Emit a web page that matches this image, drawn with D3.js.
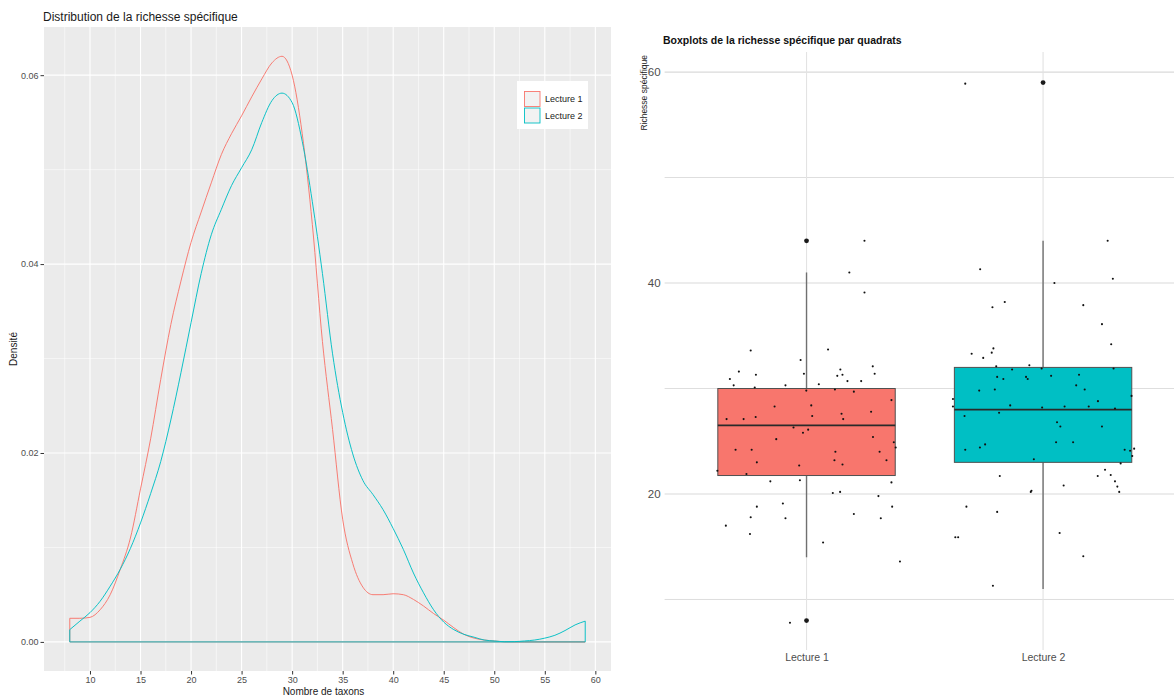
<!DOCTYPE html>
<html>
<head>
<meta charset="utf-8">
<script src="https://cdn.jsdelivr.net/npm/d3@7"></script>
<style>
  html, body { margin: 0; padding: 0; background: #ffffff; }
  svg { display: block; font-family: "Liberation Sans", Arial, sans-serif; }
</style>
</head>
<body>
<svg id="chart" width="1174" height="697"></svg>
<script>
// ---------- DATA ----------
const densityTitle = "Distribution de la richesse spécifique";
const densityXLabel = "Nombre de taxons";
const densityYLabel = "Densité";
const seriesNames = ["Lecture 1", "Lecture 2"];
const seriesColors = ["#F8766D", "#00BFC4"];

const densityX = [8, 9, 10, 11, 12, 13, 14, 15, 16, 17, 18, 19, 20, 21, 22, 23, 24, 25, 26, 27, 28, 29, 30,
  31, 32, 33, 34, 35, 36, 37, 38, 39, 40, 41, 42, 43, 44, 45, 46, 47, 48, 49, 50, 51, 52, 53, 54, 55, 56, 57, 58, 59];
const densityL1 = [0.0025, 0.0025, 0.0026, 0.0034, 0.0050, 0.0077, 0.0110, 0.0162, 0.0215, 0.0278, 0.0336, 0.0382,
  0.0423, 0.0455, 0.0486, 0.0516, 0.0538, 0.0557, 0.0577, 0.0596, 0.0613, 0.0620, 0.0600,
  0.0538, 0.0442, 0.0318, 0.0225, 0.0130, 0.0083, 0.0058, 0.0050, 0.0050, 0.0051, 0.0050, 0.0045, 0.0038,
  0.0030, 0.0023, 0.0015, 0.0008, 0.0004, 0.0002, 0.0001, 0.00002, 0, 0, 0, 0, 0, 0, 0, 0];
const densityL2 = [0.0013, 0.0022, 0.0031, 0.0043, 0.0059, 0.0077, 0.0099, 0.0126, 0.0157, 0.0191, 0.0235, 0.0285,
  0.0338, 0.0390, 0.0431, 0.0458, 0.0483, 0.0502, 0.0521, 0.0550, 0.0573, 0.0581, 0.0571,
  0.0530, 0.0466, 0.0390, 0.0305, 0.0243, 0.0199, 0.0171, 0.0156, 0.0140, 0.0120, 0.0098, 0.0073, 0.0052,
  0.0034, 0.0021, 0.0013, 0.0008, 0.0005, 0.0002, 0.0001, 0.00002, 0.00003, 0.0001, 0.0002, 0.0004, 0.0007,
  0.0012, 0.0018, 0.0022];
const densityXTicks = [10, 15, 20, 25, 30, 35, 40, 45, 50, 55, 60];
const densityXMinor = [7.5, 12.5, 17.5, 22.5, 27.5, 32.5, 37.5, 42.5, 47.5, 52.5, 57.5];
const densityYTicks = [0, 0.02, 0.04, 0.06];
const densityYMinor = [0.01, 0.03, 0.05];

const boxTitle = "Boxplots de la richesse spécifique par quadrats";
const boxYLabel = "Richesse spécifique";
const boxCategories = ["Lecture 1", "Lecture 2"];
const boxLower = [14, 11];
const boxQ1 = [21.75, 23];
const boxMedian = [26.5, 28];
const boxQ3 = [30, 32];
const boxUpper = [41, 44];
const boxOutliers1 = [44, 8];
const boxOutliers2 = [59];
const boxYTicks = [20, 40, 60];
const boxYMinor = [10, 30, 50];

const jitter1Values = [44.0, 41.0, 39.1, 33.6, 33.7, 32.7, 31.6, 32.1, 31.8, 31.3, 31.4, 31.2, 31.3, 31.4, 30.9, 30.7,
  30.7, 30.3, 30.3, 30.4, 30.1, 29.9, 29.8, 29.7, 28.9, 28.3, 28.4, 27.8, 27.6, 27.3, 27.4, 27.1, 27.1, 27.1,
  26.3, 25.8, 26.1, 25.2, 25.4, 24.9, 24.4, 24.2, 24.2, 24.0, 24.0, 23.2, 23.0, 22.8, 23.2, 22.7, 22.2, 21.9,
  21.2, 21.3, 21.1, 20.1, 20.2, 19.8, 19.1, 18.8, 18.8, 18.1, 17.8, 17.7, 17.7, 17.0, 16.2, 15.4, 13.6, 7.8];
const jitter1Offsets = [0.245, 0.181, 0.245, -0.236, 0.091, -0.025, -0.286, 0.28, 0.143, -0.214, -0.011, 0.13, 0.152,
  0.288, -0.324, 0.173, 0.231, -0.308, -0.089, 0.052, -0.219, 0.12, -0.001, 0.2, 0.359, -0.135, 0.02, 0.273, 0.148,
  -0.215, 0.024, -0.338, -0.266, 0.155, -0.055, -0.015, 0.007, -0.128, 0.281, 0.369, 0.377, -0.3, -0.232, 0.122,
  0.309, 0.118, -0.21, 0.152, 0.338, -0.031, -0.377, -0.254, -0.153, -0.028, 0.359, 0.111, 0.142, 0.304, -0.1,
  -0.21, 0.362, 0.2, -0.236, -0.089, 0.314, -0.341, -0.239, 0.07, 0.395, -0.07];
const jitter2Values = [58.9, 44.0, 41.3, 40.4, 40.0, 38.2, 37.7, 37.9, 36.1, 34.2, 33.8, 33.3, 33.4, 32.9, 32.1, 32.2,
  31.9, 31.9, 31.8, 31.2, 31.3, 31.1, 30.9, 31.1, 30.9, 30.3, 29.8, 29.9, 29.9, 29.3, 29.0, 28.8, 28.3, 28.4,
  28.2, 28.3, 28.3, 28.1, 27.7, 27.4, 26.8, 26.4, 26.4, 24.7, 24.4, 24.9, 24.9, 24.2, 24.2, 24.1, 24.3, 23.6,
  23.3, 22.9, 22.3, 21.7, 21.7, 21.8, 21.2, 20.8, 20.7, 20.3, 20.2, 20.2, 18.8, 18.3, 16.3, 15.9, 15.9, 14.1, 11.3];
const jitter2Offsets = [-0.329, 0.273, -0.266, 0.295, 0.048, -0.162, -0.214, 0.17, 0.249, 0.288, -0.21, -0.302, -0.217,
  -0.253, -0.198, -0.058, -0.006, 0.298, -0.131, 0.034, 0.152, -0.194, -0.168, -0.072, -0.065, 0.14, -0.27, -0.204,
  0.176, 0.374, -0.381, 0.232, -0.381, -0.139, -0.004, 0.091, 0.193, 0.304, -0.186, -0.332, 0.059, 0.073, 0.249,
  -0.245, -0.267, 0.055, 0.127, -0.329, 0.345, 0.368, 0.385, 0.377, -0.039, 0.328, 0.262, -0.183, 0.231, 0.286,
  0.304, 0.087, 0.314, -0.049, -0.052, 0.322, -0.324, -0.194, 0.07, -0.371, -0.359, 0.17, -0.212];

// ---------- DRAW ----------
const svg = d3.select("#chart");
svg.append("rect").attr("width", 1174).attr("height", 697).attr("fill", "#ffffff");

// ===== Left: density plot =====
const L = { left: 44, right: 611, top: 27, bottom: 671 };
const xD = d3.scaleLinear().domain([5.45, 61.55]).range([L.left, L.right]);
const yD = d3.scaleLinear().domain([-0.00308, 0.0651]).range([L.bottom, L.top]);

const gL = svg.append("g");
gL.append("rect").attr("x", L.left).attr("y", L.top)
  .attr("width", L.right - L.left).attr("height", L.bottom - L.top).attr("fill", "#EBEBEB");

// minor grid
gL.selectAll(".xminor").data(densityXMinor).enter().append("line")
  .attr("x1", d => xD(d)).attr("x2", d => xD(d)).attr("y1", L.top).attr("y2", L.bottom)
  .attr("stroke", "#ffffff").attr("stroke-width", 0.55);
gL.selectAll(".yminor").data(densityYMinor).enter().append("line")
  .attr("y1", d => yD(d)).attr("y2", d => yD(d)).attr("x1", L.left).attr("x2", L.right)
  .attr("stroke", "#ffffff").attr("stroke-width", 0.55);
// major grid
gL.selectAll(".xmajor").data(densityXTicks).enter().append("line")
  .attr("x1", d => xD(d)).attr("x2", d => xD(d)).attr("y1", L.top).attr("y2", L.bottom)
  .attr("stroke", "#ffffff").attr("stroke-width", 1.1);
gL.selectAll(".ymajor").data(densityYTicks).enter().append("line")
  .attr("y1", d => yD(d)).attr("y2", d => yD(d)).attr("x1", L.left).attr("x2", L.right)
  .attr("stroke", "#ffffff").attr("stroke-width", 1.1);

// density outlines (closed polygons like geom_density)
const densLine = d3.line().x(d => xD(d[0])).y(d => yD(d[1])).curve(d3.curveMonotoneX);
[densityL1, densityL2].forEach((vals, i) => {
  const pts = densityX.map((x, j) => [x, vals[j]]);
  const first = densityX[0], last = densityX[densityX.length - 1];
  const curve = densLine(pts);
  const path = "M" + xD(first) + "," + yD(0) + "L" + curve.slice(1) +
    "L" + xD(last) + "," + yD(0) + "Z";
  gL.append("path").attr("d", path).attr("fill", "none")
    .attr("stroke", seriesColors[i]).attr("stroke-width", 0.95);
});

// axes
const xAxisL = d3.axisBottom(xD).tickValues(densityXTicks).tickSize(3.5).tickPadding(2).tickFormat(d3.format("d"));
const gxL = gL.append("g").attr("transform", `translate(0,${L.bottom})`).call(xAxisL);
const yAxisL = d3.axisLeft(yD).tickValues(densityYTicks).tickSize(3.5).tickPadding(2).tickFormat(d3.format(".2f"));
const gyL = gL.append("g").attr("transform", `translate(${L.left},0)`).call(yAxisL);
[gxL, gyL].forEach(g => {
  g.select(".domain").remove();
  g.selectAll(".tick line").attr("stroke", "#333333");
  g.selectAll(".tick text").attr("fill", "#4D4D4D").style("font-size", "9px")
    .style("font-family", "'Liberation Sans', Arial, sans-serif");
});

gL.append("text").attr("x", 43).attr("y", 21).text(densityTitle)
  .attr("fill", "#1a1a1a").style("font-size", "12px");
gL.append("text").attr("x", (L.left + L.right) / 2 - 4).attr("y", 695).attr("text-anchor", "middle")
  .text(densityXLabel).attr("fill", "#1a1a1a").style("font-size", "10px");
gL.append("text").attr("transform", `translate(17,${(L.top + L.bottom) / 2}) rotate(-90)`)
  .attr("text-anchor", "middle").text(densityYLabel).attr("fill", "#1a1a1a").style("font-size", "10px");

// legend
const leg = gL.append("g");
leg.append("rect").attr("x", 517).attr("y", 81).attr("width", 71).attr("height", 48).attr("fill", "#ffffff");
seriesNames.forEach((name, i) => {
  const ky = 91.5 + i * 16.5;
  leg.append("rect").attr("x", 524.5).attr("y", ky).attr("width", 15.5).attr("height", 15)
    .attr("fill", "#F2F2F2").attr("stroke", seriesColors[i]).attr("stroke-width", 0.9);
  leg.append("text").attr("x", 545).attr("y", ky + 7.5).attr("dy", "0.35em").text(name)
    .attr("fill", "#1a1a1a").style("font-size", "9px");
});

// ===== Right: boxplot =====
const R = { left: 664.6, right: 1185, top: 52, bottom: 650 };
const xB = d3.scalePoint().domain(boxCategories).range([R.left, R.right]).padding(0.6);
const step = xB.step();
const yB = d3.scaleLinear().domain([5.21, 61.9]).range([R.bottom, R.top]);
const gR = svg.append("g");

// grid
gR.selectAll(".bminor").data(boxYMinor).enter().append("line")
  .attr("x1", R.left).attr("x2", 1174).attr("y1", d => yB(d)).attr("y2", d => yB(d))
  .attr("stroke", "#DEDEDE").attr("stroke-width", 1);
gR.selectAll(".bmajor").data(boxYTicks).enter().append("line")
  .attr("x1", R.left).attr("x2", 1174).attr("y1", d => yB(d)).attr("y2", d => yB(d))
  .attr("stroke", "#DADADA").attr("stroke-width", 1.2);
gR.selectAll(".bvx").data(boxCategories).enter().append("line")
  .attr("x1", d => xB(d)).attr("x2", d => xB(d)).attr("y1", R.top).attr("y2", R.bottom)
  .attr("stroke", "#E3E3E3").attr("stroke-width", 1.1);

// boxes
const boxW = 0.75 * step;
boxCategories.forEach((c, i) => {
  const cx = xB(c);
  gR.append("line").attr("x1", cx).attr("x2", cx).attr("y1", yB(boxUpper[i])).attr("y2", yB(boxQ3[i]))
    .attr("stroke", "#707070").attr("stroke-width", 1.4);
  gR.append("line").attr("x1", cx).attr("x2", cx).attr("y1", yB(boxQ1[i])).attr("y2", yB(boxLower[i]))
    .attr("stroke", "#707070").attr("stroke-width", 1.4);
  gR.append("rect").attr("x", cx - boxW / 2).attr("y", yB(boxQ3[i]))
    .attr("width", boxW).attr("height", yB(boxQ1[i]) - yB(boxQ3[i]))
    .attr("fill", seriesColors[i]).attr("stroke", "#505050").attr("stroke-width", 1);
  gR.append("line").attr("x1", cx - boxW / 2).attr("x2", cx + boxW / 2)
    .attr("y1", yB(boxMedian[i])).attr("y2", yB(boxMedian[i]))
    .attr("stroke", "#2a2a2a").attr("stroke-width", 1.7);
});
[boxOutliers1, boxOutliers2].forEach((outs, i) => {
  gR.selectAll(null).data(outs).enter().append("circle")
    .attr("cx", xB(boxCategories[i])).attr("cy", d => yB(d)).attr("r", 2.4).attr("fill", "#1a1a1a");
});

// jitter points
[[jitter1Values, jitter1Offsets], [jitter2Values, jitter2Offsets]].forEach(([vals, offs], i) => {
  const cx = xB(boxCategories[i]);
  gR.selectAll(null).data(vals.map((v, j) => [v, offs[j]])).enter().append("circle")
    .attr("cx", d => cx + d[1] * step).attr("cy", d => yB(d[0])).attr("r", 1.05).attr("fill", "#111111");
});

// axes text
const yAxisR = d3.axisLeft(yB).tickValues(boxYTicks).tickSize(0).tickPadding(4).tickFormat(d3.format("d"));
const gyR = gR.append("g").attr("transform", `translate(${R.left},0)`).call(yAxisR);
const xAxisR = d3.axisBottom(xB).tickSize(0).tickPadding(4);
const gxR = gR.append("g").attr("transform", `translate(0,${R.bottom})`).call(xAxisR);
[gxR, gyR].forEach(g => {
  g.select(".domain").remove();
  g.selectAll(".tick text").attr("fill", "#4D4D4D").style("font-size", "10.5px")
    .style("font-family", "'Liberation Sans', Arial, sans-serif");
});
gyR.selectAll(".tick text").style("font-size", "11.5px");

gR.append("text").attr("x", 663).attr("y", 44).text(boxTitle)
  .attr("fill", "#111111").style("font-size", "10.5px").style("font-weight", "bold");
gR.append("text").attr("transform", `translate(647,${R.top + 3}) rotate(-90)`)
  .attr("text-anchor", "end").text(boxYLabel).attr("fill", "#222222").style("font-size", "8.5px");
</script>
</body>
</html>
